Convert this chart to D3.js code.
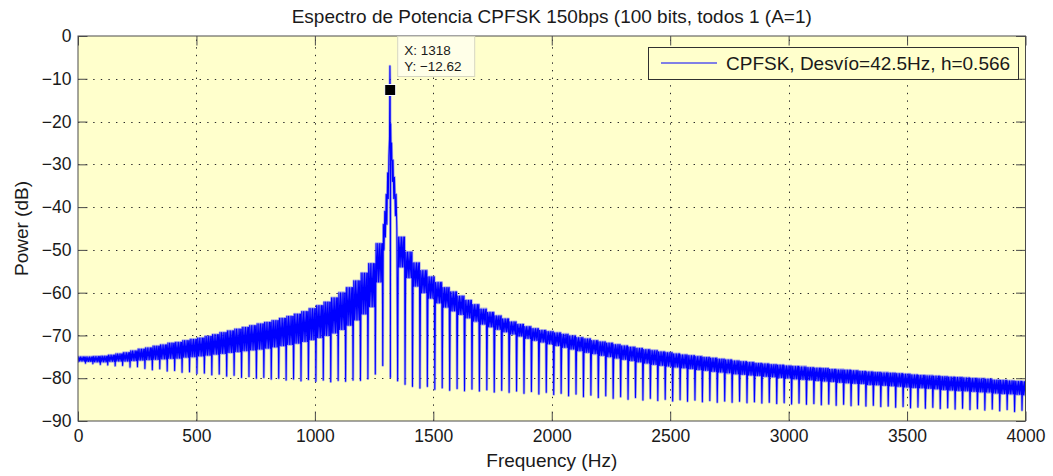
<!DOCTYPE html>
<html>
<head>
<meta charset="utf-8">
<script src="https://cdn.jsdelivr.net/npm/d3@7/dist/d3.min.js"></script>
<style>
  body { margin: 0; background: #ffffff; }
  svg text { font-family: "Liberation Sans", Arial, Helvetica, sans-serif; fill: #1a1a1a; }
</style>
</head>
<body>
<svg id="chart" width="1053" height="476"></svg>
<script>
// ---- chart data ----
const titleText = "Espectro de Potencia CPFSK 150bps (100 bits, todos 1 (A=1)";
const xLabel = "Frequency (Hz)";
const yLabel = "Power (dB)";
const legendLabel = "CPFSK, Desvío=42.5Hz, h=0.566";
const xTicks = [0, 500, 1000, 1500, 2000, 2500, 3000, 3500, 4000];
const yTicks = [0, -10, -20, -30, -40, -50, -60, -70, -80, -90];

// spectral ripple: one lobe every lobeSpacing Hz, starting at 0 Hz
const lobeSpacing = 31.38;
// upper edge of each lobe (dB)
const lobeTop = [
  -75.0, -75.0, -74.9, -74.8, -74.6, -74.3, -74.0, -73.6, -73.2, -72.9,
  -72.5, -72.2, -71.8, -71.6, -71.2, -70.9, -70.6, -70.2, -69.8, -69.3,
  -68.9, -68.5, -68.1, -67.7, -67.3, -66.9, -66.5, -66.0, -65.5, -65.0,
  -64.4, -63.7, -63.0, -62.2, -61.2, -60.0, -58.8, -57.2, -55.4, -53.2,
  -48.5, null, null, -47.0, -50.5, -53.0, -54.8, -56.3, -57.6, -58.8,
  -59.8, -60.8, -61.8, -62.8, -63.8, -64.6, -65.4, -66.1, -66.8, -67.4,
  -67.9, -68.4, -68.8, -69.1, -69.4, -69.7, -70.1, -70.5, -70.8, -71.2,
  -71.5, -71.8, -72.1, -72.4, -72.7, -73.0, -73.3, -73.5, -73.8, -74.0,
  -74.3, -74.5, -74.7, -74.9, -75.1, -75.3, -75.5, -75.7, -75.9, -76.1,
  -76.3, -76.5, -76.6, -76.8, -76.9, -77.1, -77.2, -77.3, -77.5, -77.6,
  -77.7, -77.9, -78.0, -78.1, -78.2, -78.4, -78.5, -78.6, -78.7, -78.8,
  -78.9, -79.0, -79.2, -79.3, -79.4, -79.5, -79.6, -79.7, -79.8, -79.9,
  -80.0, -80.1, -80.2, -80.4, -80.5, -80.6, -80.7, -80.8
];
// lower edge of the dense body of each lobe (dB)
const lobeLow = [
  -76.0, -76.1, -76.2, -76.2, -76.1, -76.0, -76.0, -75.9, -75.8, -75.7,
  -75.6, -75.5, -75.4, -75.3, -75.1, -75.0, -74.8, -74.6, -74.4, -74.2,
  -74.0, -73.8, -73.6, -73.4, -73.2, -73.0, -72.7, -72.4, -72.1, -71.8,
  -71.4, -71.0, -70.5, -70.0, -69.4, -68.6, -67.6, -66.4, -65.0, -63.3,
  -57.5, null, null, -54.0, -56.5, -58.5, -60.0, -61.3, -62.4, -63.4,
  -64.3, -65.1, -65.9, -66.7, -67.4, -68.0, -68.6, -69.2, -69.7, -70.2,
  -70.7, -71.2, -71.6, -72.0, -72.4, -72.8, -73.2, -73.6, -74.0, -74.3,
  -74.7, -75.0, -75.3, -75.6, -75.9, -76.2, -76.5, -76.8, -77.0, -77.2,
  -77.4, -77.6, -77.8, -78.0, -78.2, -78.4, -78.6, -78.8, -79.0, -79.1,
  -79.3, -79.4, -79.6, -79.7, -79.9, -80.0, -80.2, -80.3, -80.4, -80.6,
  -80.7, -80.8, -81.0, -81.1, -81.2, -81.3, -81.5, -81.6, -81.7, -81.8,
  -81.9, -82.1, -82.2, -82.3, -82.4, -82.5, -82.7, -82.8, -82.9, -83.0,
  -83.1, -83.2, -83.3, -83.5, -83.6, -83.7, -83.8, -83.9
];
// depth of the null that opens each lobe (dB)
const lobeDip = [
  -76.3, -76.5, -76.6, -76.8, -76.9, -77.1, -77.0, -77.4, -77.3, -77.7,
  -78.0, -77.8, -78.3, -78.2, -78.6, -78.5, -78.9, -78.8, -79.2, -79.0,
  -79.5, -79.3, -79.8, -79.6, -80.0, -79.8, -80.2, -80.0, -80.4, -80.2,
  -80.6, -80.3, -80.7, -80.4, -80.8, -80.5, -80.7, -80.4, -80.5, -80.1,
  -79.0, -77.0, null, -80.6, -81.4, -81.9, -82.3, -81.9, -82.6, -82.2,
  -82.8, -82.4, -82.9, -82.5, -83.0, -82.7, -83.2, -82.8, -83.3, -83.0,
  -83.5, -83.1, -83.7, -83.3, -83.8, -83.5, -84.1, -83.7, -84.3, -83.9,
  -84.5, -84.1, -84.7, -84.3, -84.9, -84.5, -85.1, -84.7, -85.2, -84.9,
  -85.3, -85.0, -85.4, -85.1, -85.5, -85.2, -85.6, -85.3, -85.6, -85.4,
  -85.7, -85.5, -85.8, -85.6, -85.9, -85.7, -86.0, -85.8, -86.1, -85.9,
  -86.2, -86.0, -86.3, -86.1, -86.4, -86.2, -86.5, -86.3, -86.6, -86.5,
  -86.8, -86.6, -86.9, -86.7, -87.0, -86.8, -87.1, -86.9, -87.2, -87.0,
  -87.3, -87.1, -87.4, -87.2, -87.6, -87.3, -87.8, -87.5
];
// carrier region (the two lobes around the tone), sampled point by point
const carrierFreq = [1289, 1292, 1295, 1298, 1301, 1304, 1307, 1310, 1312.5, 1315,
                     1316.8, 1318, 1318.8, 1320, 1322, 1324, 1327, 1330, 1333, 1336,
                     1340, 1343, 1346];
const carrierDb = [-44, -50, -41, -47, -37, -44, -32, -38, -28, -24,
                   -7.0, -12.62, -79.8, -20.5, -29, -25, -34, -29, -38, -33,
                   -42, -37, -45];
// data cursor
const cursorX = 1318;
const cursorY = -12.62;

// ---- layout ----
const W = 1053, H = 476;
const plot = { left: 78, right: 1025.5, top: 36, bottom: 421 };
const tickLen = 9.5;
const yellow = "#ffffcc";

const svg = d3.select("#chart");
const x = d3.scaleLinear().domain([0, 4000]).range([plot.left, plot.right]);
const y = d3.scaleLinear().domain([-90, 0]).range([plot.bottom, plot.top]);

// background
svg.append("rect").attr("width", W).attr("height", H).attr("fill", "#ffffff");
svg.append("rect")
  .attr("x", plot.left).attr("y", plot.top)
  .attr("width", plot.right - plot.left).attr("height", plot.bottom - plot.top)
  .attr("fill", yellow);

// dotted grid
const grid = svg.append("g").attr("stroke", "#2a2a2a").attr("stroke-width", 1)
  .attr("stroke-dasharray", "1.4,6.2").attr("fill", "none");
xTicks.filter(t => t > 0 && t < 4000).forEach(t => {
  const px = Math.round(x(t)) + 0.5;
  grid.append("line").attr("x1", px).attr("x2", px)
    .attr("y1", plot.bottom).attr("y2", plot.top);
});
yTicks.filter(t => t < 0 && t > -90).forEach(t => {
  const py = Math.round(y(t)) + 0.5;
  grid.append("line").attr("y1", py).attr("y2", py)
    .attr("x1", plot.left).attr("x2", plot.right);
});

// build the spectrum trace: null, then a dense body swinging between the
// lobe's upper edge and the lower edge of its body, then the next null
const points = [];
const within = [0.10, 0.21, 0.32, 0.43, 0.54, 0.65, 0.76, 0.86, 0.93];
for (let i = 0; i < lobeTop.length; i++) {
  const f0 = i * lobeSpacing;
  if (lobeDip[i] !== null) points.push([f0, lobeDip[i]]);
  if (lobeTop[i] === null) {
    if (lobeTop[i - 1] !== null) {
      carrierFreq.forEach((f, k) => points.push([f, carrierDb[k]]));
    }
    continue;
  }
  within.forEach((p, k) => {
    points.push([f0 + p * lobeSpacing, k % 2 === 0 ? lobeTop[i] : lobeLow[i]]);
  });
}

const clipId = "plot-clip";
svg.append("clipPath").attr("id", clipId).append("rect")
  .attr("x", plot.left).attr("y", plot.top)
  .attr("width", plot.right - plot.left).attr("height", plot.bottom - plot.top);

const line = d3.line().x(d => x(d[0])).y(d => y(d[1]));
const trace = svg.append("g").attr("clip-path", `url(#${clipId})`);
trace.append("path").datum(points).attr("d", line)
  .attr("fill", "none").attr("stroke", "#5c5cff").attr("stroke-width", 2.6)
  .attr("stroke-opacity", 0.5).attr("stroke-linejoin", "round");
trace.append("path").datum(points).attr("d", line)
  .attr("fill", "none").attr("stroke", "#0000ff").attr("stroke-width", 1.05)
  .attr("stroke-linejoin", "round");

// axes with inward ticks on all four sides
const fmt = d => d < 0 ? "\u2212" + Math.abs(d) : String(d);
const axisColor = "#4a4a4a";

const gx = svg.append("g").attr("transform", `translate(0,${plot.bottom})`)
  .call(d3.axisBottom(x).tickValues(xTicks).tickFormat(fmt)
    .tickSizeInner(-tickLen).tickSizeOuter(0).tickPadding(9));
const gxTop = svg.append("g").attr("transform", `translate(0,${plot.top})`)
  .call(d3.axisTop(x).tickValues(xTicks).tickFormat("")
    .tickSizeInner(-tickLen).tickSizeOuter(0));
const gy = svg.append("g").attr("transform", `translate(${plot.left},0)`)
  .call(d3.axisLeft(y).tickValues(yTicks).tickFormat(fmt)
    .tickSizeInner(-tickLen).tickSizeOuter(0).tickPadding(6.5));
const gyRight = svg.append("g").attr("transform", `translate(${plot.right},0)`)
  .call(d3.axisRight(y).tickValues(yTicks).tickFormat("")
    .tickSizeInner(-tickLen).tickSizeOuter(0));

[gx, gxTop, gy, gyRight].forEach(g => {
  g.select(".domain").remove();
  g.selectAll(".tick line").attr("stroke", axisColor);
  g.selectAll("text").attr("font-size", 17.5).attr("fill", "#1a1a1a")
    .attr("font-family", '"Liberation Sans", Arial, sans-serif');
});

svg.append("rect")
  .attr("x", plot.left).attr("y", plot.top)
  .attr("width", plot.right - plot.left).attr("height", plot.bottom - plot.top)
  .attr("fill", "none").attr("stroke", axisColor).attr("stroke-width", 1);

// titles
svg.append("text").attr("x", (plot.left + plot.right) / 2).attr("y", 23)
  .attr("text-anchor", "middle").attr("font-size", 19).text(titleText);
svg.append("text").attr("x", (plot.left + plot.right) / 2).attr("y", 467)
  .attr("text-anchor", "middle").attr("font-size", 19).text(xLabel);
svg.append("text")
  .attr("transform", `translate(28,${(plot.top + plot.bottom) / 2}) rotate(-90)`)
  .attr("text-anchor", "middle").attr("font-size", 19).text(yLabel);

// legend
const lg = svg.append("g");
lg.append("rect").attr("x", 648.5).attr("y", 47.5).attr("width", 370).attr("height", 32)
  .attr("fill", yellow).attr("stroke", "#303030").attr("stroke-width", 1);
lg.append("line").attr("x1", 661).attr("x2", 717).attr("y1", 63).attr("y2", 63)
  .attr("stroke", "#0000ff").attr("stroke-width", 1);
lg.append("text").attr("x", 726).attr("y", 69.5).attr("font-size", 19).text(legendLabel);

// data cursor marker and tip
const mx = x(cursorX), my = y(cursorY);
svg.append("rect").attr("x", mx - 5.5).attr("y", my - 5.5).attr("width", 11).attr("height", 11)
  .attr("fill", "#000").attr("stroke", "#ffffff").attr("stroke-width", 1);
const tip = svg.append("g");
tip.append("rect").attr("x", mx + 7.5).attr("y", plot.top + 0.5).attr("width", 77).attr("height", 40)
  .attr("fill", "#ffffe8").attr("stroke", "#d6d6c2").attr("stroke-width", 1);
tip.append("text").attr("x", mx + 14).attr("y", 54.5).attr("font-size", 13.5)
  .text("X: " + cursorX);
tip.append("text").attr("x", mx + 14).attr("y", 70.5).attr("font-size", 13.5)
  .text("Y: " + fmt(cursorY));
</script>
</body>
</html>
